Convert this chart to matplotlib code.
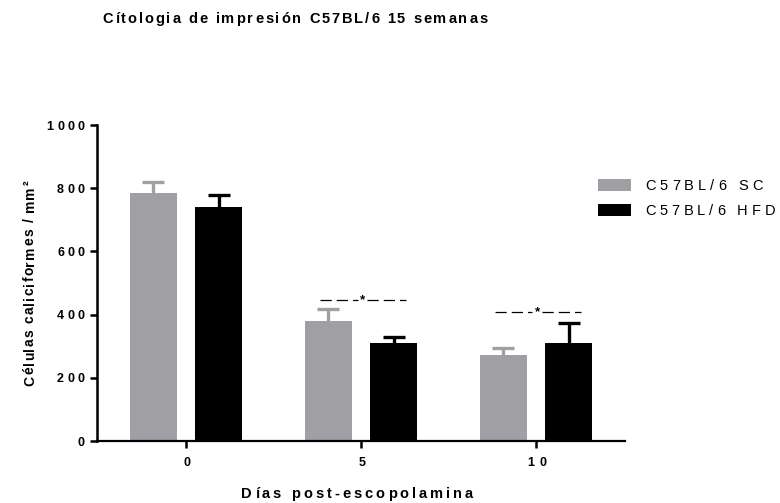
import numpy as np
import matplotlib
matplotlib.use("Agg")
import matplotlib.pyplot as plt
from matplotlib.patches import Rectangle
from matplotlib.font_manager import FontProperties

plt.rcParams['font.family'] = ['Liberation Sans', 'DejaVu Sans']

# goblet cells per mm2: mean and upper error
dias = ["0", "5", "10"]
grupos = ["C57BL/6 SC", "C57BL/6 HFD"]
sc_media = [785, 381, 272]
sc_error = [35, 37, 23]
hfd_media = [741, 309, 311]
hfd_error = [37, 19, 63]
# significance markers (group index, height)
signif_pos = [1, 2]
signif_altura = [446, 409]
yticks = [0, 200, 400, 600, 800, 1000]

colores = ["#A0A0A4", "#000000"]

W, H = 780, 503
fig = plt.figure(figsize=(W / 100, H / 100), dpi=100)
ax = fig.add_axes([97 / W, 1 - 441 / H, 528 / W, 316 / H])
renderer = fig.canvas.get_renderer()


def espaciado(x, y, s, size, ancho, vertical=False, weight="bold"):
    """Draw s letter by letter (GraphPad-like tracking), centred on x/y
    (pixels from top-left), baseline given by the other coordinate."""
    fp = FontProperties(family=['Liberation Sans', 'DejaVu Sans'],
                        size=size, weight=weight)
    ws = [renderer.get_text_width_height_descent(c, fp, ismath=False)[0]
          for c in s]
    track = (ancho - sum(ws)) / max(len(s) - 1, 1)
    if vertical:
        pos = (H - y) - ancho / 2
        for c, w in zip(s, ws):
            fig.text(x / W, pos / H, c, fontproperties=fp, rotation=90,
                     rotation_mode="anchor", ha="left", va="baseline")
            pos += w + track
    else:
        pos = x - ancho / 2
        for c, w in zip(s, ws):
            fig.text(pos / W, 1 - y / H, c, fontproperties=fp,
                     ha="left", va="baseline")
            pos += w + track


x = np.arange(len(dias))
ancho = 0.27
desp = 0.187
cap = 0.063

for medias, errores, color, dx in [(sc_media, sc_error, colores[0], -desp),
                                   (hfd_media, hfd_error, colores[1], desp)]:
    medias = np.array(medias)
    tope = medias + np.array(errores)
    ax.bar(x + dx, medias, width=ancho, color=color, zorder=2)
    ax.vlines(x + dx, medias, tope, color=color, lw=2.4, zorder=1)
    ax.hlines(tope, x + dx - cap, x + dx + cap, color=color, lw=2.4, zorder=1)

# dashed significance lines with asterisk
for g, h in zip(signif_pos, signif_altura):
    ax.plot([g - 0.235, g - 0.02], [h, h], color="black", lw=0.9,
            dashes=(9, 4), zorder=3)
    ax.plot([g + 0.035, g + 0.26], [h, h], color="black", lw=0.9,
            dashes=(9, 4), zorder=3)
    ax.text(g + 0.008, h, "*", ha="center", va="center", fontsize=9.5,
            fontweight="bold")

ax.set_xlim(-0.51, 2.51)
ax.set_ylim(0, 1000)
ax.set_yticks(yticks)
ax.set_xticks(x)
ax.set_xticklabels([])
ax.set_yticklabels([])

for s in ["top", "right"]:
    ax.spines[s].set_visible(False)
ax.spines["left"].set_linewidth(1.8)
ax.spines["bottom"].set_linewidth(1.6)
ax.tick_params(axis="both", direction="out", length=5, width=1.8)

# tick labels with tracking
for xi, lab in zip(x, dias):
    px = ax.transData.transform((xi, 0))[0]
    espaciado(px + 1, 466, lab, 9, 7 * len(lab) + 5 * (len(lab) - 1))
for yv in yticks:
    py = H - ax.transData.transform((0, yv))[1]
    lab = str(yv)
    w = 7 * len(lab) + 3.5 * (len(lab) - 1)
    espaciado(85 - w / 2, py + 4.5, lab, 9, w)

espaciado(34, 283, "Células caliciformes / mm²", 10, 205, vertical=True)
espaciado(357, 498, "Días post-escopolamina", 10.5, 232)
espaciado(295, 23, "Cítologia de impresión C57BL/6 15 semanas", 10.5, 385)

# legend
for i, (nombre, color) in enumerate(zip(grupos, colores)):
    yc = 185 + 25 * i
    fig.patches.append(Rectangle((598 / W, 1 - (yc + 6) / H), 33 / W, 12 / H,
                                 transform=fig.transFigure,
                                 facecolor=color, edgecolor="none"))
    w = 118 if i == 0 else 130
    espaciado(645 + w / 2, yc + 5, nombre, 10.5, w, weight="normal")

fig.savefig("out.png", dpi=100)
